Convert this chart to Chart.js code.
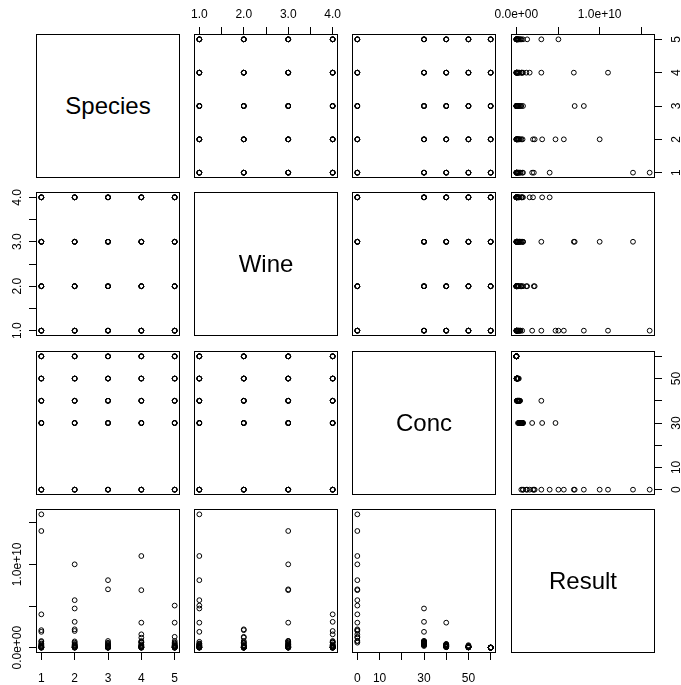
<!DOCTYPE html>
<html><head><meta charset="utf-8">
<script src="https://cdn.jsdelivr.net/npm/chart.js@4/dist/chart.umd.min.js"></script>
<style>
html,body{margin:0;padding:0;background:#fff;width:681px;height:685px;overflow:hidden;position:relative}
canvas{position:absolute}
.diag{position:absolute;border:1px solid #000;box-sizing:border-box;display:flex;align-items:center;justify-content:center;font:24px "Liberation Sans",Arial,sans-serif;color:#000}
</style></head><body>
<script>
const varNames = ['Species', 'Wine', 'Conc', 'Result'];

const species = [
  1,1,1,1,1,1,1,1,1,1,1,1,1,1,1,1,1,1,1,1,
  2,2,2,2,2,2,2,2,2,2,2,2,2,2,2,2,2,2,2,2,
  3,3,3,3,3,3,3,3,3,3,3,3,3,3,3,3,3,3,3,3,
  4,4,4,4,4,4,4,4,4,4,4,4,4,4,4,4,4,4,4,4,
  5,5,5,5,5,5,5,5,5,5,5,5,5,5,5,5,5,5,5,5
];
const wine = [
  1,1,1,1,1,2,2,2,2,2,3,3,3,3,3,4,4,4,4,4,
  1,1,1,1,1,2,2,2,2,2,3,3,3,3,3,4,4,4,4,4,
  1,1,1,1,1,2,2,2,2,2,3,3,3,3,3,4,4,4,4,4,
  1,1,1,1,1,2,2,2,2,2,3,3,3,3,3,4,4,4,4,4,
  1,1,1,1,1,2,2,2,2,2,3,3,3,3,3,4,4,4,4,4
];
const conc = [
  0,30,40,50,60,0,30,40,50,60,0,30,40,50,60,0,30,40,50,60,
  0,30,40,50,60,0,30,40,50,60,0,30,40,50,60,0,30,40,50,60,
  0,30,40,50,60,0,30,40,50,60,0,30,40,50,60,0,30,40,50,60,
  0,30,40,50,60,0,30,40,50,60,0,30,40,50,60,0,30,40,50,60,
  0,30,40,50,60,0,30,40,50,60,0,30,40,50,60,0,30,40,50,60
];
const result = [
  16.0e9,1.9e9,0.3e9,0.1e9,0.02e9, 2.1e9,0.5e9,0.2e9,0.05e9,0, 14.0e9,0.8e9,0.4e9,0.2e9,0.01e9, 4.0e9,0.7e9,0.1e9,0.08e9,0,
  5.7e9,4.7e9,0.45e9,0.3e9,0.03e9, 2.2e9,0.6e9,0.15e9,0.1e9,0, 10.0e9,0.75e9,0.35e9,0.15e9,0.02e9, 2.0e9,3.1e9,0.25e9,0.05e9,0,
  8.1e9,0.4e9,0.1e9,0.05e9,0, 0.8e9,0.2e9,0.05e9,0.02e9,0, 7.0e9,0.5e9,0.2e9,0.1e9,0.01e9, 0.6e9,0.3e9,0.08e9,0.03e9,0,
  11.0e9,0.7e9,3.0e9,0.2e9,0.02e9, 1.2e9,0.6e9,0.3e9,0.1e9,0, 6.9e9,0.8e9,0.4e9,0.15e9,0.01e9, 1.6e9,0.65e9,0.2e9,0.05e9,0,
  5.05e9,0.5e9,0.2e9,0.1e9,0.01e9, 1.3e9,0.3e9,0.1e9,0.05e9,0, 3.0e9,0.6e9,0.25e9,0.12e9,0, 0.8e9,0.4e9,0.15e9,0.04e9,0
];

const speciesTicks = [1, 2, 3, 4, 5];
const speciesTickLabels = ['1', '2', '3', '4', '5'];
const wineTicks = [1, 1.5, 2, 2.5, 3, 3.5, 4];
const wineTickLabels = ['1.0', '', '2.0', '', '3.0', '', '4.0'];
const concTicks = [0, 10, 20, 30, 40, 50, 60];
const concTickLabels = ['0', '10', '', '30', '', '50', ''];
const resultTicks = [0, 5e9, 1e10, 1.5e10];
const resultTickLabels = ['0.0e+00', '', '1.0e+10', ''];

const vars = [species, wine, conc, result];
const tickVals = [speciesTicks, wineTicks, concTicks, resultTicks];
const tickLabs = [speciesTickLabels, wineTickLabels, concTickLabels, resultTickLabels];

const PANEL = 144, M = 44;
const COL_LEFT = [36, 194, 352, 511];
const ROW_TOP = [34, 192, 351, 509];
const FONT = 'Liberation Sans, Arial, sans-serif';

function range(arr) {
  const lo = Math.min(...arr), hi = Math.max(...arr);
  const ext = (hi - lo) * 0.04;
  return [lo - ext, hi + ext];
}

const boxPlugin = {
  id: 'box',
  afterDatasetsDraw(chart) {
    const a = chart.chartArea, ctx = chart.ctx;
    ctx.save();
    ctx.strokeStyle = '#000';
    ctx.lineWidth = 1;
    ctx.strokeRect(a.left + 0.5, a.top + 0.5, a.right - a.left - 1, a.bottom - a.top - 1);
    ctx.restore();
  }
};

const yLabelPlugin = {
  id: 'ylab',
  afterDraw(chart, args, opts) {
    if (!opts.show) return;
    const s = chart.scales.y, a = chart.chartArea, ctx = chart.ctx;
    ctx.save();
    ctx.fillStyle = '#000';
    ctx.font = '12px ' + FONT;
    ctx.textAlign = 'center';
    ctx.textBaseline = 'middle';
    opts.ticks.forEach((v, k) => {
      const lab = opts.labels[k];
      if (!lab) return;
      const px = s.getPixelForValue(v);
      const x = opts.side === 'left' ? a.left - 18 : a.right + 22;
      ctx.save();
      ctx.translate(x, px);
      ctx.rotate(-Math.PI / 2);
      ctx.fillText(lab, 0, 0);
      ctx.restore();
    });
    ctx.restore();
  }
};

for (let i = 0; i < 4; i++) {
  for (let j = 0; j < 4; j++) {
    const left = COL_LEFT[j], top = ROW_TOP[i];
    if (i === j) {
      const d = document.createElement('div');
      d.className = 'diag';
      d.style.left = left + 'px';
      d.style.top = top + 'px';
      d.style.width = PANEL + 'px';
      d.style.height = PANEL + 'px';
      d.textContent = varNames[i];
      document.body.appendChild(d);
      continue;
    }
    const showTop = (i === 0 && j % 2 === 1);
    const showBottom = (i === 3 && j % 2 === 0);
    const showLeft = (j === 0 && i % 2 === 1);
    const showRight = (j === 3 && i % 2 === 0);
    const xPos = showTop ? 'top' : 'bottom';
    const yPos = showRight ? 'right' : 'left';
    const showX = showTop || showBottom;
    const showY = showLeft || showRight;

    const cv = document.createElement('canvas');
    cv.width = PANEL + 2 * M;
    cv.height = PANEL + 2 * M;
    cv.style.left = (left - M) + 'px';
    cv.style.top = (top - M) + 'px';
    document.body.appendChild(cv);

    const xs = vars[j], ys = vars[i];
    const [xmin, xmax] = range(xs);
    const [ymin, ymax] = range(ys);
    const xt = tickVals[j], xl = tickLabs[j];
    const yt = tickVals[i], yl = tickLabs[i];

    new Chart(cv, {
      type: 'scatter',
      data: {
        datasets: [{
          data: xs.map((v, k) => ({ x: v, y: ys[k] })),
          pointStyle: 'circle',
          pointRadius: 2.4,
          pointHoverRadius: 2.4,
          borderColor: '#000',
          borderWidth: 1,
          backgroundColor: 'rgba(0,0,0,0)'
        }]
      },
      options: {
        responsive: false,
        animation: false,
        devicePixelRatio: 1,
        events: [],
        layout: {
          padding: {
            top: xPos === 'top' ? 0 : M,
            bottom: xPos === 'bottom' ? 0 : M,
            left: yPos === 'left' ? 0 : M,
            right: yPos === 'right' ? 0 : M
          }
        },
        plugins: {
          legend: { display: false },
          tooltip: { enabled: false },
          ylab: { show: showY, side: yPos, ticks: yt, labels: yl }
        },
        scales: {
          x: {
            type: 'linear',
            position: xPos,
            min: xmin,
            max: xmax,
            afterBuildTicks: s => { s.ticks = xt.map(v => ({ value: v })); },
            afterFit: s => { s.height = M; s.paddingLeft = 0; s.paddingRight = 0; s.paddingTop = 0; s.paddingBottom = 0; },
            border: { display: false },
            grid: { display: showX, drawOnChartArea: false, drawTicks: true, tickLength: 7, color: '#000', lineWidth: 1 },
            ticks: {
              display: showX, autoSkip: false, minRotation: 0, maxRotation: 0,
              padding: xPos === 'top' ? 5 : 11,
              color: '#000',
              font: { family: FONT, size: 12 },
              callback: v => { const k = xt.indexOf(v); return k >= 0 ? xl[k] : ''; }
            }
          },
          y: {
            type: 'linear',
            position: yPos,
            min: ymin,
            max: ymax,
            afterBuildTicks: s => { s.ticks = yt.map(v => ({ value: v })); },
            afterFit: s => { s.width = M; s.paddingLeft = 0; s.paddingRight = 0; s.paddingTop = 0; s.paddingBottom = 0; },
            border: { display: false },
            grid: { display: showY, drawOnChartArea: false, drawTicks: true, tickLength: 7, color: '#000', lineWidth: 1 },
            ticks: { display: false }
          }
        }
      },
      plugins: [boxPlugin, yLabelPlugin]
    });
  }
}
</script>
</body></html>
